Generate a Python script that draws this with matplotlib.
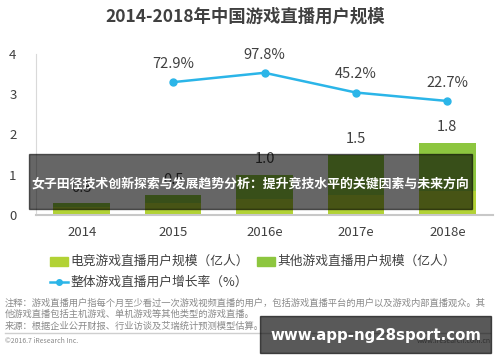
import matplotlib
matplotlib.use("Agg")
import matplotlib.pyplot as plt
import numpy as np

plt.rcParams['font.family'] = ['Noto Sans CJK SC', 'DejaVu Sans']

years = ["2014", "2015", "2016e", "2017e", "2018e"]
totals = [0.3, 0.5, 1.0, 1.5, 1.8]
esports = [0.2, 0.3, 0.4, 0.5, 0.6]
other = [t - e for t, e in zip(totals, esports)]
growth_years = ["2015", "2016e", "2017e", "2018e"]
growth = [72.9, 97.8, 45.2, 22.7]

c_esp = "#b2d235"
c_oth = "#8dc63f"
c_line = "#2bb5e8"
c_text = "#404040"

fig = plt.figure(figsize=(5, 3.62), dpi=100)
ax = fig.add_axes([0.072, 0.406, 0.914, 0.445])

x = np.arange(len(years))
ax.bar(x, esports, width=0.62, color=c_esp)
ax.bar(x, other, width=0.62, bottom=esports, color=c_oth)
for xi, t in zip(x, totals):
    ax.annotate("%.1f" % t, (xi, t), xytext=(0, 6), textcoords="offset points",
                ha="center", va="bottom", fontsize=10.5, color=c_text)

ax.set_xlim(-0.5, 4.5)
ax.set_ylim(0, 4)
ax.set_xticks(x, labels=years)
ax.set_yticks([0, 1, 2, 3, 4])
ax.tick_params(length=0, labelsize=9.5, colors=c_text)
ax.tick_params(axis="y", pad=14)
ax.tick_params(axis="x", pad=8)
for s in ["top", "right"]:
    ax.spines[s].set_visible(False)
ax.spines["left"].set_color("#d9d9d9")
ax.spines["bottom"].set_color("#c8c8c8")
ax.spines["bottom"].set_linewidth(1.5)

# growth rate on a hidden second axis
ax2 = ax.twinx()
gx = [years.index(g) for g in growth_years]
ax2.plot(gx, growth, color=c_line, linewidth=1.8, marker="o", markersize=5)
for xi, g in zip(gx, growth):
    ax2.annotate("%.1f%%" % g, (xi, g), xytext=(0, 8), textcoords="offset points",
                 ha="center", va="bottom", fontsize=10.5, color=c_text)
ax2.set_ylim(-281, 148)
ax2.axis("off")

fig.text(0.49, 0.953, "2014-2018年中国游戏直播用户规模", ha="center", va="center",
         fontsize=12.5, fontweight="bold", color=c_text)

# legend
lx, ly1, ly2 = 0.1, 0.277, 0.221
fig.patches.append(plt.Rectangle((lx, ly1 - 0.012), 0.036, 0.024, transform=fig.transFigure, color=c_esp))
fig.text(lx + 0.04, ly1, "电竞游戏直播用户规模（亿人）", va="center", fontsize=9.2, color=c_text)
fig.patches.append(plt.Rectangle((0.514, ly1 - 0.012), 0.036, 0.024, transform=fig.transFigure, color=c_oth))
fig.text(0.554, ly1, "其他游戏直播用户规模（亿人）", va="center", fontsize=9.2, color=c_text)
fig.lines.append(plt.Line2D([lx, lx + 0.036], [ly2, ly2], transform=fig.transFigure,
                            color=c_line, linewidth=1.8))
fig.lines.append(plt.Line2D([lx + 0.018], [ly2], transform=fig.transFigure,
                            color=c_line, marker="o", markersize=4))
fig.text(lx + 0.04, ly2, "整体游戏直播用户增长率（%）", va="center", fontsize=9.2, color=c_text)

# footnotes
note_c = "#8a8a8a"
fig.text(0.01, 0.163, "注释：游戏直播用户指每个月至少看过一次游戏视频直播的用户，包括游戏直播平台的用户以及游戏内部直播观众。其",
         va="center", fontsize=6.7, color=note_c)
fig.text(0.01, 0.131, "他游戏直播包括主机游戏、单机游戏等其他类型的游戏直播。", va="center", fontsize=6.7, color=note_c)
fig.text(0.01, 0.099, "来源：根据企业公开财报、行业访谈及艾瑞统计预测模型估算。", va="center", fontsize=6.7, color=note_c)
fig.lines.append(plt.Line2D([0.01, 0.98], [0.08, 0.08], transform=fig.transFigure, color="#cfcfcf", linewidth=1))
fig.text(0.01, 0.058, "©2016.7 iResearch Inc.", va="center", fontsize=5, color=note_c)
fig.text(0.982, 0.058, "www.iresearch.com.cn", va="center", ha="right", fontsize=5, color=note_c)

# overlay band with headline
fig.patches.append(plt.Rectangle((0.058, 0.423), 0.886, 0.152, transform=fig.transFigure,
                                 color="black", alpha=0.6, zorder=5))
fig.text(0.5, 0.494, "女子田径技术创新探索与发展趋势分析：提升竞技水平的关键因素与未来方向",
         ha="center", va="center", fontsize=9.3, fontweight="bold", color="white", zorder=6)

# watermark box
fig.patches.append(plt.Rectangle((0.52, 0.025), 0.462, 0.102, transform=fig.transFigure,
                                 color="black", alpha=0.65, zorder=5))
fig.text(0.751, 0.074, "www.app-ng28sport.com", ha="center", va="center",
         fontsize=10.8, fontweight="bold", color="white", zorder=6, family="DejaVu Sans")

fig.savefig("out.png", dpi=100)
